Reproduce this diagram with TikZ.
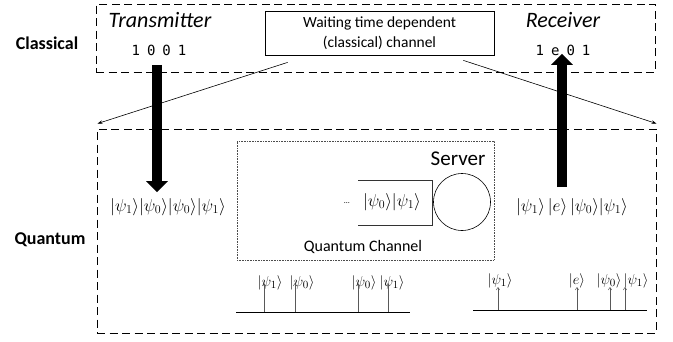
\documentclass[tikz,border=0pt]{standalone}
\usepackage{fontspec}
\setmainfont{Carlito}
\setmonofont{DejaVu Sans Mono}
\usetikzlibrary{arrows.meta}
\begin{document}
\begin{tikzpicture}[x=1pt,y=-1pt,
  dashbox/.style={draw, line width=0.9pt, dash pattern=on 8pt off 4.5pt, inner sep=0pt},
  lbl/.style={font=\bfseries\fontsize{18}{20}\selectfont},
  role/.style={font=\itshape\fontsize{22}{24}\selectfont},
  bits/.style={font=\ttfamily\fontsize{14}{16}\selectfont},
  state/.style={font=\fontsize{16.5}{18}\selectfont, inner sep=0pt},
  tstate/.style={font=\fontsize{15}{17}\selectfont, inner sep=0pt},
  bigarrow/.style={line width=10pt, -{Triangle[width=21pt,length=11pt]}},
  thin arrow/.style={line width=0.6pt, -{Stealth[length=5pt,width=3.5pt]}},
  tick/.style={line width=0.5pt, draw=black!65, -{Straight Barb[length=2.5pt,width=3.5pt]}},
  base/.style={line width=0.8pt}
]
\useasboundingbox (0,0) rectangle (673,341);

% classical layer
\node[dashbox, minimum width=559pt, minimum height=68pt] (cbox) at (375.5,38) {};
\node[lbl] (classical) at (47,43) {Classical};
\node[role] (tx) at (160,20) {Transmitter};
\node[bits] (txbits) at (159,50) {1\hspace{7pt}0\hspace{7pt}0\hspace{7pt}1};
\node[role] (rx) at (563,20) {Receiver};
\node[bits] (rxbits) at (563,50) {1\hspace{7pt}e\hspace{7pt}0\hspace{7pt}1};
\node[draw, line width=0.8pt, minimum width=229pt, minimum height=44pt, align=center,
      font=\fontsize{15.5}{20}\selectfont] (wait) at (379.5,33) {Waiting time dependent\\(classical) channel};

% quantum layer
\node[dashbox, minimum width=559pt, minimum height=204pt] (qbox) at (376.5,231) {};
\node[lbl] (quantum) at (50,240) {Quantum};

\node[draw=black!70, densely dotted, line width=0.6pt, minimum width=257pt, minimum height=119pt, inner sep=0pt] (qch) at (365.5,200.5) {};
\node[font=\fontsize{21}{23}\selectfont] (server) at (458,159) {Server};
\node[draw, line width=0.6pt, circle, minimum size=57pt, inner sep=0pt] (srv) at (462,202) {};
\node[font=\fontsize{16}{18}\selectfont] (qchl) at (363,247) {Quantum Channel};

\coordinate (ib1) at (358,180);
\coordinate (ib2) at (432,180);
\coordinate (ib3) at (432,225);
\coordinate (ib4) at (358,225);
\draw[line width=0.6pt, draw=black!80] (ib1) -- (ib2) -- (ib3) -- (ib4);
\node[state] (dots) at (347,203) {\fontsize{8}{8}\selectfont\dots};
\node[state] (inq) at (392,202) {$|\psi_0\rangle|\psi_1\rangle$};

\node[state] (lstate) at (168,207) {$|\psi_1\rangle|\psi_0\rangle|\psi_0\rangle|\psi_1\rangle$};
\node[state] (rstate) at (572,207) {$|\psi_1\rangle\,|e\rangle\,|\psi_0\rangle|\psi_1\rangle$};

% big arrows
\coordinate (ta) at ([shift={(-2,6)}]txbits.south);
\coordinate (tb) at ([yshift=6pt]ta |- lstate.north);
\draw[bigarrow] (ta) -- (tb);
\coordinate (ra0) at ([shift={(-1,-5)}]rxbits.south);
\coordinate (rb0) at ([yshift=11pt]ra0 |- rstate.north);
\draw[bigarrow] (rb0) -- (ra0);

% channel lines
\coordinate (wl) at ([shift={(23,7)}]wait.south west);
\coordinate (wr) at ([shift={(-31,5)}]wait.south east);
\coordinate (ql) at ([shift={(1,-5)}]qbox.north west);
\coordinate (qr) at ([shift={(0,-5)}]qbox.north east);
\draw[thin arrow] (wl) -- (ql);
\draw[thin arrow] (wr) -- (qr);

% left timeline
\coordinate (la) at (236,312);
\coordinate (lb) at (410,312);
\draw[base] (la) -- (lb);
\node[tstate] (l1) at (270,283) {$|\psi_1\rangle$};
\node[tstate] (l2) at (302,283) {$|\psi_0\rangle$};
\node[tstate] (l3) at (364,283) {$|\psi_0\rangle$};
\node[tstate] (l4) at (392,283) {$|\psi_1\rangle$};
\coordinate (lt1) at (264,312);
\coordinate (lt2) at (295,312);
\coordinate (lt3) at (358,312);
\coordinate (lt4) at (388,312);
\foreach \i in {1,2,3,4} \draw[tick] (lt\i) -- (lt\i |- l\i.center);

% right timeline
\coordinate (ra) at (473,310);
\coordinate (rb) at (647,310);
\draw[base] (ra) -- (rb);
\node[tstate] (r1) at (500,281) {$|\psi_1\rangle$};
\node[tstate] (r2) at (577,281) {$|e\rangle$};
\node[tstate] (r3) at (609,281) {$|\psi_0\rangle$};
\node[tstate] (r4) at (636,281) {$|\psi_1\rangle$};
\coordinate (rt1) at (498,310);
\coordinate (rt2) at (577,310);
\coordinate (rt3) at (610,310);
\coordinate (rt4) at (625,310);
\foreach \i in {1,2,3,4} \draw[tick] (rt\i) -- ([yshift=-6pt]rt\i |- r\i.center);
\end{tikzpicture}
\end{document}
